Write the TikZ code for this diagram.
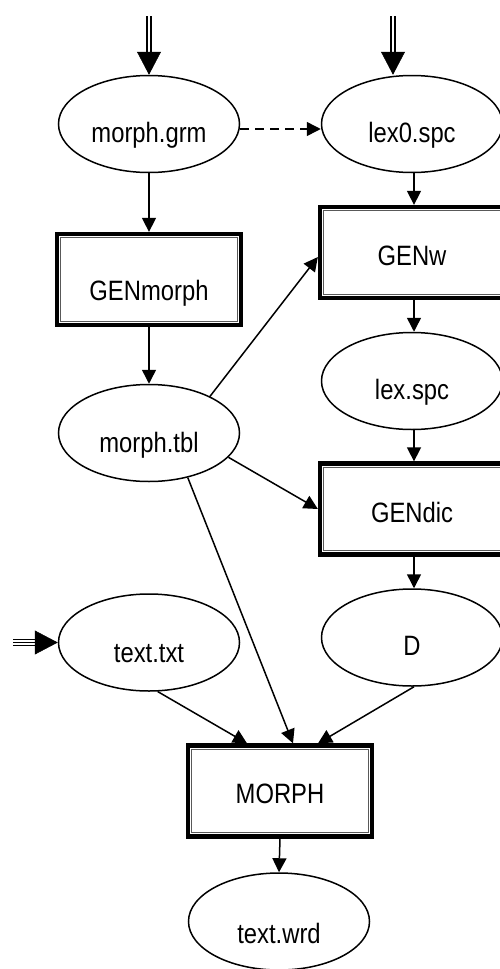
\documentclass[tikz,border=0pt]{standalone}
\usepackage{fontspec}
\setmainfont{Liberation Sans}[FakeStretch=0.85]
\usetikzlibrary{shapes.geometric,arrows.meta}

\begin{document}
\begin{tikzpicture}[x=1pt,y=-1pt,
  lbl/.style={font=\fontsize{28pt}{32pt}\selectfont, text depth=0pt},
  datafile/.style={ellipse, draw, line width=1.5pt, minimum width=181pt,
    minimum height=97pt, inner sep=0pt, lbl},
  procbox/.style={rectangle, draw, line width=4.3pt, minimum width=184pt,
    minimum height=91pt, inner sep=0pt, lbl},
  innerframe/.style={draw=black!65, line width=1pt},
  flow/.style={line width=1.5pt, -{Triangle[length=14pt,width=14pt]}},
  optflow/.style={flow, dash pattern=on 9pt off 6pt},
  bigtip/.style={line width=0.5pt, -{Triangle[length=23pt,width=24pt]}},
  dblshaft/.style={line width=2pt, double=white, double distance=2.5pt},
  tplshaft/.style={line width=1pt, double=white, double distance=5pt},
]
\useasboundingbox (0,0) rectangle (500,969);
\clip (0,0) rectangle (500,969);

% left column
\node[datafile, text height=36pt] (grm)      at (149,124)   {morph.grm};
\node[procbox,  text height=41pt] (genmorph) at (149,279.5) {GENmorph};
\node[datafile, text height=38pt] (tbl)      at (149,433)   {morph.tbl};
\node[datafile, text height=39pt] (txt)      at (149,642.5) {text.txt};

% right column
\node[datafile, text height=36pt] (lex0)   at (412,124)   {lex0.spc};
\node[procbox,  text height=26pt] (genw)   at (412,252.5) {GENw};
\node[datafile, text height=36pt] (lexspc) at (412,381)   {lex.spc};
\node[procbox,  text height=26pt] (gendic) at (412,509)   {GENdic};
\node[datafile, text height=35pt] (dict)   at (412,637.5) {D};

% bottom
\node[procbox,  text height=24pt] (morph) at (280,791)   {MORPH};
\node[datafile, text height=43pt] (wrd)   at (279,921.5) {text.wrd};

% thin inner frame of the program boxes
\foreach \b in {genmorph,genw,gendic,morph}
  \draw[innerframe] ([shift={(6pt,-6pt)}]\b.north west)
    rectangle ([shift={(-6pt,6pt)}]\b.south east);

% external inputs
\coordinate (src-grm)  at (149,16);
\coordinate (src-lex0) at (393,16);
\coordinate (lex0-in)  at (src-lex0 |- lex0.north);
\coordinate (src-txt)  at (13,642.5);

\draw[dblshaft] (src-grm) -- ([yshift=10pt]grm.north);
\draw[bigtip] ([yshift=23pt]grm.north) -- (grm.north);
\draw[dblshaft] (src-lex0) -- ([yshift=10pt]lex0-in);
\draw[bigtip] ([yshift=23pt]lex0-in) -- (lex0-in);
\draw[tplshaft] (src-txt) -- ([xshift=-20pt]txt.west);
\draw[line width=1pt] (src-txt) -- ([xshift=-20pt]txt.west);
\draw[bigtip] ([xshift=-23pt]txt.west) -- (txt.west);

% flows
\draw[optflow] ([yshift=-5pt]grm.east) -- ([yshift=-5pt]lex0.west);
\draw[flow] (grm.south) -- (genmorph.north);
\draw[flow] (genmorph.south) -- (tbl.north);
\draw[flow] ([xshift=2pt]lex0.south) -- ([xshift=2pt]genw.north);
\draw[flow] ([xshift=2pt]genw.south) -- ([xshift=2pt]lexspc.north);
\draw[flow] ([xshift=2pt]lexspc.south) -- ([xshift=2pt]gendic.north);
\draw[flow] ([xshift=2pt]gendic.south) -- ([xshift=2pt]dict.north);
\draw[flow] (tbl.31.5) -- ([yshift=-4.5pt]genw.west);
\draw[flow] (tbl.-17) -- (gendic.west);
\draw[flow] (tbl.-49) -- ([xshift=13pt]morph.north);
\draw[flow] (txt.-80) -- ([xshift=-33pt]morph.north);
\draw[flow] ([xshift=2pt]dict.south) -- ([xshift=38pt]morph.north);
\draw[flow] (morph.south) -- (wrd.north);
\end{tikzpicture}
\end{document}
